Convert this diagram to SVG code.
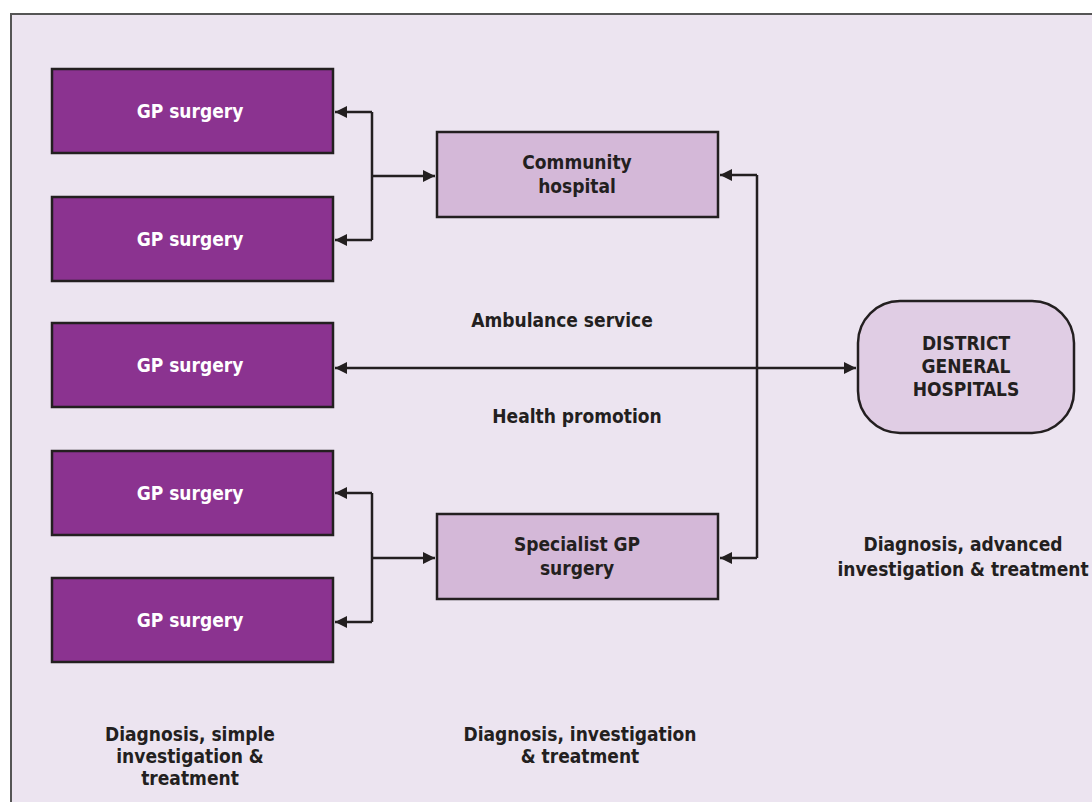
<svg xmlns="http://www.w3.org/2000/svg" width="1092" height="802" viewBox="0 0 1092 802">
<defs>
<marker id="ah" viewBox="0 0 10 10" refX="10" refY="5" markerWidth="14" markerHeight="12" markerUnits="userSpaceOnUse" orient="auto-start-reverse">
<path d="M0,0 L10,5 L0,10 z" fill="#231F20"/>
</marker>
<style>
.gp{fill:#8B3390;stroke:#231F20;stroke-width:2.5}
.mid{fill:#D4B8D8;stroke:#231F20;stroke-width:2.5}
.dgh{fill:#E0CDE4;stroke:#231F20;stroke-width:2.5}
.wt{font-family:"Liberation Sans Narrow","DejaVu Sans Condensed","Liberation Sans",sans-serif;font-weight:bold;font-size:19px;fill:#ffffff;text-anchor:middle}
.bt{font-family:"Liberation Sans Narrow","DejaVu Sans Condensed","Liberation Sans",sans-serif;font-weight:bold;font-size:19px;fill:#231F20;text-anchor:middle}
.ln{fill:none;stroke:#231F20;stroke-width:2.5}
</style>
</defs>
<rect x="0" y="0" width="1092" height="802" fill="#ffffff"/>
<rect x="11" y="14" width="1090" height="800" fill="#ECE4F0" stroke="#555" stroke-width="2"/>
<g id="gp1"><rect class="gp" x="52" y="69" width="281" height="84"/><text class="wt" x="190" y="118">GP surgery</text></g>
<g id="gp2"><rect class="gp" x="52" y="197" width="281" height="84"/><text class="wt" x="190" y="246">GP surgery</text></g>
<g id="gp3"><rect class="gp" x="52" y="323" width="281" height="84"/><text class="wt" x="190" y="372">GP surgery</text></g>
<g id="gp4"><rect class="gp" x="52" y="451" width="281" height="84"/><text class="wt" x="190" y="500">GP surgery</text></g>
<g id="gp5"><rect class="gp" x="52" y="578" width="281" height="84"/><text class="wt" x="190" y="627">GP surgery</text></g>
<g id="community"><rect class="mid" x="437" y="132" width="281" height="85"/><text class="bt" x="577" y="169">Community</text><text class="bt" x="577" y="193">hospital</text></g>
<g id="specialist"><rect class="mid" x="437" y="514" width="281" height="85"/><text class="bt" x="577" y="551">Specialist GP</text><text class="bt" x="577" y="575">surgery</text></g>
<g id="dgh"><rect class="dgh" x="858" y="301" width="216" height="132" rx="42" ry="42"/><text class="bt" x="966" y="350">DISTRICT</text><text class="bt" x="966" y="373">GENERAL</text><text class="bt" x="966" y="396">HOSPITALS</text></g>
<g id="connectors">
<path class="ln" d="M372,112 L372,240" />
<line class="ln" x1="372" y1="112" x2="335" y2="112" marker-end="url(#ah)"/>
<line class="ln" x1="372" y1="240" x2="335" y2="240" marker-end="url(#ah)"/>
<line class="ln" x1="372" y1="176" x2="435" y2="176" marker-end="url(#ah)"/>
<path class="ln" d="M372,493 L372,622" />
<line class="ln" x1="372" y1="493" x2="335" y2="493" marker-end="url(#ah)"/>
<line class="ln" x1="372" y1="622" x2="335" y2="622" marker-end="url(#ah)"/>
<line class="ln" x1="372" y1="558" x2="435" y2="558" marker-end="url(#ah)"/>
<path class="ln" d="M757,175 L757,558" />
<line class="ln" x1="757" y1="175" x2="720" y2="175" marker-end="url(#ah)"/>
<line class="ln" x1="757" y1="558" x2="720" y2="558" marker-end="url(#ah)"/>
<line class="ln" x1="335" y1="368" x2="856" y2="368" marker-start="url(#ah)" marker-end="url(#ah)"/>
</g>
<g id="labels">
<text class="bt" x="562" y="327">Ambulance service</text>
<text class="bt" x="577" y="423">Health promotion</text>
<text class="bt" x="963" y="551">Diagnosis, advanced</text>
<text class="bt" x="963" y="576">investigation &amp; treatment</text>
<text class="bt" x="190" y="741">Diagnosis, simple</text>
<text class="bt" x="190" y="763">investigation &amp;</text>
<text class="bt" x="190" y="785">treatment</text>
<text class="bt" x="580" y="741">Diagnosis, investigation</text>
<text class="bt" x="580" y="763">&amp; treatment</text>
</g>
</svg>
